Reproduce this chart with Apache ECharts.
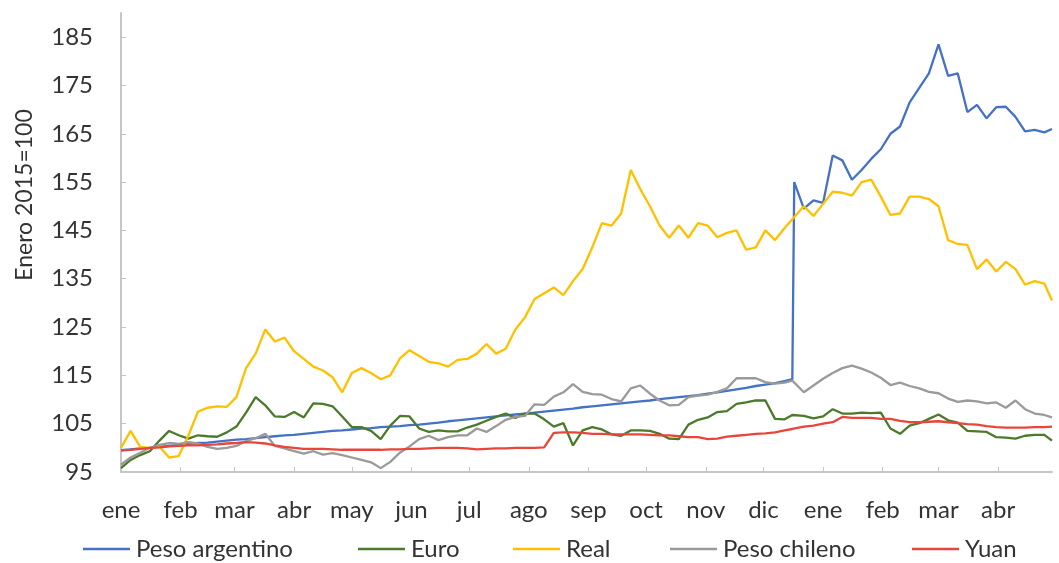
<!DOCTYPE html>
<html>
<head>
<meta charset="utf-8">
<script src="https://cdn.jsdelivr.net/npm/echarts@6/dist/echarts.min.js"></script>
<style>
  html, body { margin: 0; padding: 0; background: #ffffff; }
  #chart { width: 1059px; height: 563px; }
</style>
</head>
<body>
<div id="chart"></div>
<script>
// Sampling dates (every five days, plus the day before the peso jump of 17 Dec 2015)
const dates = [
  '2015-01-01','2015-01-06','2015-01-11','2015-01-16','2015-01-21','2015-01-26','2015-01-31',
  '2015-02-05','2015-02-10','2015-02-15','2015-02-20','2015-02-25',
  '2015-03-02','2015-03-07','2015-03-12','2015-03-17','2015-03-22','2015-03-27',
  '2015-04-01','2015-04-06','2015-04-11','2015-04-16','2015-04-21','2015-04-26',
  '2015-05-01','2015-05-06','2015-05-11','2015-05-16','2015-05-21','2015-05-26','2015-05-31',
  '2015-06-05','2015-06-10','2015-06-15','2015-06-20','2015-06-25','2015-06-30',
  '2015-07-05','2015-07-10','2015-07-15','2015-07-20','2015-07-25','2015-07-30',
  '2015-08-04','2015-08-09','2015-08-14','2015-08-19','2015-08-24','2015-08-29',
  '2015-09-03','2015-09-08','2015-09-13','2015-09-18','2015-09-23','2015-09-28',
  '2015-10-03','2015-10-08','2015-10-13','2015-10-18','2015-10-23','2015-10-28',
  '2015-11-02','2015-11-07','2015-11-12','2015-11-17','2015-11-22','2015-11-27',
  '2015-12-02','2015-12-07','2015-12-12','2015-12-16','2015-12-17','2015-12-22','2015-12-27',
  '2016-01-01','2016-01-06','2016-01-11','2016-01-16','2016-01-21','2016-01-26','2016-01-31',
  '2016-02-05','2016-02-10','2016-02-15','2016-02-20','2016-02-25',
  '2016-03-01','2016-03-06','2016-03-11','2016-03-16','2016-03-21','2016-03-26','2016-03-31',
  '2016-04-05','2016-04-10','2016-04-15','2016-04-20','2016-04-25','2016-04-29'
];

// Index values (Enero 2015 = 100)
const pesoArgentino = [
  99.5, 99.7, 99.9, 100.0, 100.2, 100.4, 100.6,
  100.8, 101.0, 101.1, 101.3, 101.5,
  101.7, 101.8, 102.0, 102.2, 102.4, 102.6,
  102.7, 102.9, 103.1, 103.3, 103.5, 103.6,
  103.8, 104.0, 104.1, 104.3, 104.4, 104.5, 104.7,
  104.8, 105.0, 105.2, 105.5, 105.7, 105.9,
  106.1, 106.3, 106.5, 106.7, 106.9, 107.1,
  107.3, 107.5, 107.7, 107.9, 108.1, 108.4,
  108.6, 108.8, 109.0, 109.2, 109.4, 109.6,
  109.8, 110.1, 110.3, 110.5, 110.7, 110.9,
  111.2, 111.5, 111.8, 112.1, 112.4, 112.8,
  113.1, 113.4, 113.8, 114.2, 155.0, 149.5, 151.2,
  150.7, 160.5, 159.5, 155.5, 157.5, 159.8, 161.8,
  165.0, 166.5, 171.5, 174.5, 177.5,
  183.5, 177.0, 177.5, 169.5, 171.0, 168.2, 170.5,
  170.6, 168.5, 165.5, 165.8, 165.3, 166.0
];

const euro = [
  95.8, 97.5, 98.5, 99.3, 101.5, 103.5, 102.6,
  101.9, 102.6, 102.4, 102.3, 103.2,
  104.4, 107.3, 110.5, 108.8, 106.5, 106.4,
  107.4, 106.3, 109.2, 109.1, 108.6, 106.5,
  104.3, 104.3, 103.5, 101.8, 104.6, 106.6, 106.5,
  104.0, 103.3, 103.6, 103.4, 103.4, 104.2,
  104.8, 105.6, 106.4, 107.1, 106.2, 107.1,
  107.1, 105.9, 104.4, 105.1, 100.5, 103.6,
  104.3, 103.8, 102.8, 102.5, 103.6, 103.6,
  103.5, 102.9, 101.9, 101.8, 104.8, 105.8,
  106.3, 107.4, 107.6, 109.1, 109.4, 109.8,
  109.8, 106.0, 105.9, 106.8, 107.2, 106.6, 106.1,
  106.5, 108.0, 107.1, 107.1, 107.3, 107.2, 107.3,
  104.0, 102.9, 104.6, 105.1, 106.0,
  106.9, 105.7, 105.2, 103.5, 103.4, 103.3, 102.2,
  102.1, 101.9, 102.5, 102.7, 102.7, 101.5
];

const real = [
  100.0, 103.5, 100.2, 100.0, 100.3, 98.0, 98.3,
  102.5, 107.5, 108.3, 108.6, 108.5,
  110.5, 116.5, 119.5, 124.5, 122.0, 122.8,
  120.0, 118.4, 116.8, 116.0, 114.6, 111.5,
  115.5, 116.5, 115.5, 114.2, 115.0, 118.5, 120.2,
  119.0, 117.8, 117.5, 116.8, 118.2, 118.4,
  119.5, 121.5, 119.5, 120.5, 124.5, 127.0,
  130.8, 132.0, 133.2, 131.6, 134.5, 137.0,
  141.5, 146.5, 146.0, 148.5, 157.5, 153.5,
  150.0, 146.0, 143.5, 146.0, 143.5, 146.5,
  146.0, 143.6, 144.5, 145.0, 141.0, 141.5,
  145.0, 143.0, 145.5, 147.3, 147.5, 150.0, 148.0,
  150.5, 153.0, 152.8, 152.2, 155.0, 155.5, 152.0,
  148.2, 148.5, 152.0, 152.0, 151.5,
  150.0, 143.0, 142.2, 142.0, 137.0, 139.0, 136.5,
  138.5, 137.0, 133.8, 134.5, 134.0, 130.5
];

const pesoChileno = [
  96.5, 98.0, 99.0, 100.0, 100.6, 101.0, 100.8,
  101.2, 100.9, 100.2, 99.8, 100.0,
  100.4, 101.4, 102.0, 102.9, 100.4, 99.9,
  99.3, 98.8, 99.3, 98.6, 98.9, 98.5,
  98.0, 97.5, 97.0, 95.8, 97.1, 99.0, 100.3,
  101.8, 102.5, 101.6, 102.2, 102.6, 102.6,
  104.0, 103.3, 104.5, 105.8, 106.4, 106.6,
  109.0, 108.9, 110.6, 111.5, 113.2, 111.6,
  111.1, 111.0, 110.1, 109.6, 112.3, 112.9,
  111.2, 109.8, 108.8, 108.9, 110.5, 110.8,
  111.0, 111.6, 112.3, 114.4, 114.4, 114.4,
  113.6, 113.3, 113.5, 113.9, 114.0, 111.5, 112.9,
  114.3, 115.5, 116.5, 117.0, 116.4, 115.6, 114.5,
  113.0, 113.5, 112.8, 112.3, 111.6,
  111.3, 110.2, 109.5, 109.8, 109.6, 109.2, 109.4,
  108.3, 109.8, 108.0, 107.1, 106.8, 106.3
];

const yuan = [
  99.5, 99.6, 99.8, 100.0, 100.1, 100.3, 100.4,
  100.5, 100.5, 100.6, 100.7, 100.9,
  101.0, 101.2, 101.1, 100.9, 100.5, 100.2,
  100.0, 99.8, 99.8, 99.8, 99.7, 99.6,
  99.6, 99.6, 99.6, 99.6, 99.7, 99.7, 99.8,
  99.8, 99.9, 100.0, 100.0, 100.0, 99.9,
  99.7, 99.8, 99.9, 99.9, 100.0, 100.0,
  100.0, 100.1, 103.1, 103.2, 103.2, 103.1,
  102.9, 102.9, 102.8, 102.8, 102.8, 102.8,
  102.7, 102.6, 102.6, 102.4, 102.2, 102.2,
  101.8, 101.9, 102.3, 102.5, 102.7, 102.9,
  103.0, 103.2, 103.6, 103.9, 104.0, 104.4, 104.6,
  105.0, 105.3, 106.4, 106.2, 106.2, 106.2, 106.0,
  106.0, 105.6, 105.3, 105.3, 105.4,
  105.5, 105.3, 105.1, 104.9, 104.8, 104.5, 104.3,
  104.2, 104.2, 104.2, 104.3, 104.3, 104.4
];

// Month ticks along the date axis and their labels
const monthTicks = [
  '2015-01-01','2015-02-01','2015-03-01','2015-04-01','2015-05-01','2015-06-01',
  '2015-07-01','2015-08-01','2015-09-01','2015-10-01','2015-11-01','2015-12-01',
  '2016-01-01','2016-02-01','2016-03-01','2016-04-01'
];
const monthLabels = ['ene','feb','mar','abr','may','jun','jul','ago','sep','oct','nov','dic','ene','feb','mar','abr'];

// Value-axis ticks
const yTicks = [95, 105, 115, 125, 135, 145, 155, 165, 175, 185];

const seriesNames = ['Peso argentino', 'Euro', 'Real', 'Peso chileno', 'Yuan'];
const seriesColors = ['#4472c4', '#4a7a2a', '#ffc000', '#9a9a9a', '#e8463c'];
const seriesValues = [pesoArgentino, euro, real, pesoChileno, yuan];

// Left edge of each legend entry
const legendLeft = [83, 358, 513, 670, 912];

const toTime = s => echarts.time.parse(s).getTime();
const dateTimes = dates.map(toTime);
const tickTimes = monthTicks.map(toTime);

const FONT = 'Lato, "Open Sans", sans-serif';
const FS = 24;
const TEXT = '#333333';
const AXIS = '#c6c6c6';

const chart = echarts.init(document.getElementById('chart'), null, { renderer: 'canvas' });

chart.setOption({
  animation: false,
  backgroundColor: '#ffffff',
  grid: { left: 121, right: 7, top: 13, bottom: 91, containLabel: false },
  xAxis: {
    type: 'value',
    min: dateTimes[0],
    max: dateTimes[dateTimes.length - 1],
    axisLine: { show: true, lineStyle: { color: AXIS, width: 2 } },
    axisTick: { show: true, inside: true, length: 5, lineStyle: { color: AXIS, width: 1 }, customValues: tickTimes },
    splitLine: { show: false },
    axisLabel: {
      customValues: tickTimes,
      margin: 26,
      fontFamily: FONT,
      fontSize: FS,
      color: TEXT,
      hideOverlap: false,
      formatter: function (value) {
        let best = 0, bestDiff = Infinity;
        tickTimes.forEach((t, i) => {
          const d = Math.abs(t - value);
          if (d < bestDiff) { bestDiff = d; best = i; }
        });
        return monthLabels[best];
      }
    }
  },
  yAxis: {
    type: 'value',
    min: 95,
    max: 190,
    axisLine: { show: true, lineStyle: { color: AXIS, width: 2 } },
    axisTick: { show: true, inside: true, length: 5, lineStyle: { color: AXIS, width: 1 }, customValues: yTicks },
    splitLine: { show: false },
    axisLabel: {
      customValues: yTicks,
      margin: 28,
      fontFamily: FONT,
      fontSize: FS,
      color: TEXT
    }
  },
  legend: seriesNames.map((name, i) => ({
    left: legendLeft[i],
    top: 537,
    icon: 'rect',
    itemWidth: 47,
    itemHeight: 2.5,
    padding: 0,
    textStyle: { fontFamily: FONT, fontSize: FS, color: TEXT, padding: [0, 0, 0, 1] },
    data: [name]
  })),
  graphic: [{
    type: 'text',
    x: 25,
    y: 195,
    rotation: Math.PI / 2,
    style: {
      text: 'Enero 2015=100',
      fontFamily: FONT,
      fontSize: 23,
      fill: TEXT,
      textAlign: 'center',
      textVerticalAlign: 'middle'
    }
  }],
  series: seriesNames.map((name, i) => ({
    name: name,
    type: 'line',
    symbol: 'none',
    showSymbol: false,
    color: seriesColors[i],
    lineStyle: { width: 2.3, color: seriesColors[i] },
    data: dateTimes.map((t, j) => [t, seriesValues[i][j]])
  }))
});
</script>
</body>
</html>
